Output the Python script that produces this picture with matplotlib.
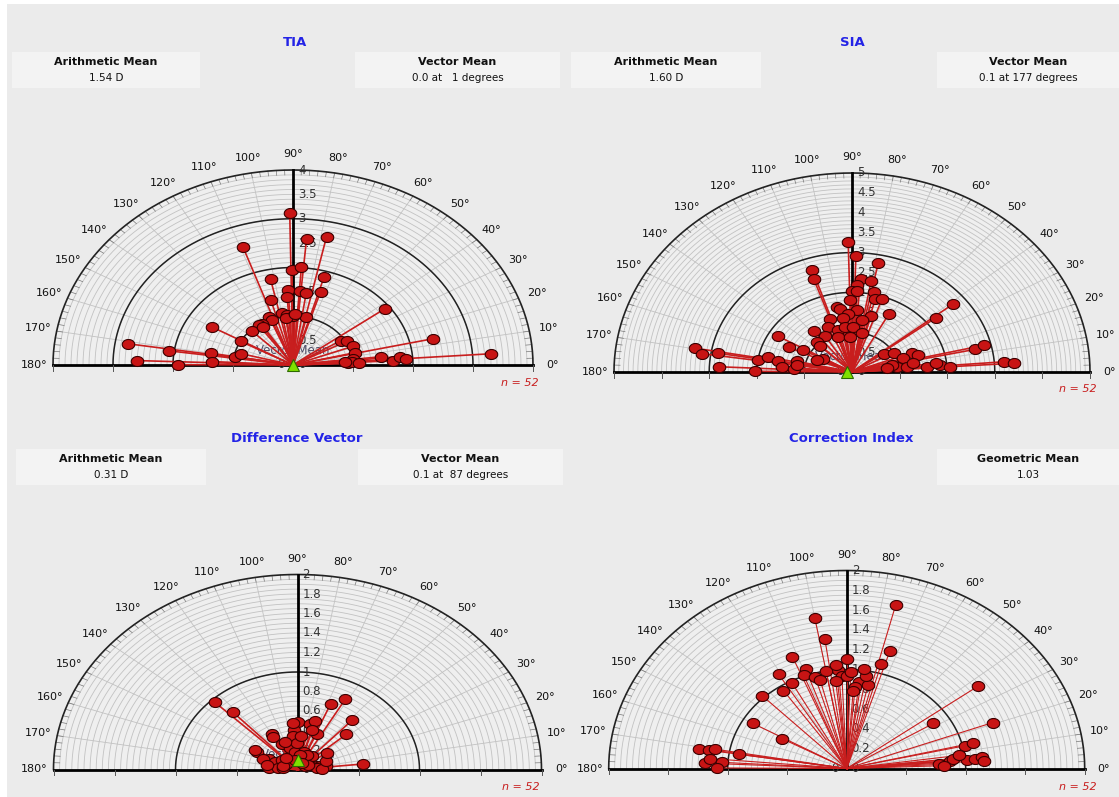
import numpy as np
import matplotlib.pyplot as plt
from matplotlib.patches import Rectangle
from matplotlib.transforms import offset_copy

W, H = 1119, 797

# TIA (angle in degrees, magnitude in D)
tia_ang = [91, 85, 78, 109, 90.5, 86, 74, 102, 93, 85.5, 81.5, 73, 94, 105.5, 37, 100,
           96, 90, 77, 112, 111, 122, 125, 134.5, 150, 151, 171, 172, 170, 170, 178, 179.8,
           177, 4, 13, 32, 28.5, 21, 13.7, 7, 3, 6.6, 3, 5.5, 3.7, 4, 4.6, 123, 97, 88, 165, 2]
tia_mag = [3.12, 2.6, 2.69, 2.57, 1.95, 2.02, 1.88, 1.8, 1.54, 1.53, 1.5, 1.57, 1.4, 1.38, 1.92, 1.08,
           1.03, 1.0, 1.0, 1.07, 0.99, 0.99, 0.99, 0.98, 1.56, 1.0, 2.79, 2.09, 1.38, 0.98, 2.6, 1.92,
           1.35, 3.3, 2.39, 0.94, 1.03, 1.07, 1.06, 1.0, 0.92, 1.48, 1.67, 1.79, 1.89, 0.98, 0.87, 0.93,
           0.98, 1.05, 0.9, 1.1]

# SIA
sia_ang = [91.4, 88.4, 78.6, 108, 109, 85.6, 80, 87.5, 90, 86.9, 77, 75, 71, 91, 38.8, 37.7,
           62, 74, 101, 99, 86.5, 93, 97.6, 109, 81, 114, 105, 97.5, 88.5, 78.5, 108, 92.6,
           122, 128, 150, 135, 136, 155, 152, 171, 168, 170, 175, 176, 167, 179.5, 152, 158,
           35, 29, 21, 17, 17.6, 8, 6.6, 12, 7, 9.6, 4.8, 5.5, 3.7, 12.4, 13.6, 4.6, 3.7,
           169.7, 171.7, 170.5, 177.3, 7, 171]
sia_mag = [3.26, 2.91, 2.79, 2.7, 2.47, 2.34, 2.32, 2.19, 2.04, 2.04, 2.06, 1.89, 1.95, 1.81, 2.72, 2.22,
           1.65, 1.47, 1.66, 1.59, 1.57, 1.46, 1.38, 1.42, 1.32, 1.24, 1.1, 1.15, 1.12, 1.01, 0.93, 0.87,
           1.07, 1.31, 1.79, 1.05, 0.93, 1.47, 1.16, 2.0, 1.8, 1.57, 1.48, 1.23, 1.19, 2.04, 0.68, 0.8,
           0.81, 1.0, 1.35, 1.46, 1.13, 0.95, 1.16, 0.85, 0.74, 1.31, 1.58, 1.86, 2.06, 2.65, 2.85, 3.2, 3.4,
           3.35, 3.19, 2.85, 2.79, 1.78, 1.18]

# Difference Vector
dv_ang = [132, 134.5, 61.5, 68, 48.5, 42, 6, 90, 78, 74, 67, 73, 94, 96, 120, 121,
          116, 105, 97, 91, 151, 150, 155, 156, 143, 146, 177, 176, 171, 74, 42, 27,
          13, 12, 9, 4, 48, 62, 82, 94, 165, 160, 30, 100, 2, 20, 130, 170, 60, 110, 35, 85]
dv_mag = [0.79, 0.97, 0.82, 0.73, 0.68, 0.54, 0.54, 0.49, 0.48, 0.52, 0.40, 0.42, 0.41, 0.35, 0.42, 0.39,
          0.29, 0.23, 0.18, 0.27, 0.38, 0.40, 0.26, 0.20, 0.16, 0.11, 0.23, 0.16, 0.12, 0.19, 0.12, 0.07,
          0.16, 0.19, 0.24, 0.16, 0.18, 0.17, 0.15, 0.48, 0.12, 0.30, 0.10, 0.10, 0.20, 0.25, 0.15, 0.25,
          0.08, 0.30, 0.30, 0.35]

# Correction Index
ci_ang = [76, 100, 98, 90, 73, 74.6, 112, 109, 111, 106, 121, 124, 134, 94, 92.5, 96,
          90, 83, 85, 86, 78, 37, 32, 20.7, 150, 151, 171, 170.6, 170, 171, 177.4, 176.6,
          179.7, 13, 13.6, 3, 5, 6.4, 4.6, 5.3, 6, 3.9, 100, 104, 88, 95, 80, 118, 8, 2, 175, 82]
ci_mag = [1.70, 1.54, 1.32, 1.11, 1.24, 1.10, 1.22, 1.06, 1.01, 0.96, 1.11, 0.95, 1.02, 1.00, 0.94, 0.89,
          0.93, 0.88, 0.83, 0.78, 0.86, 1.38, 0.86, 1.31, 0.91, 0.62, 1.26, 1.17, 1.12, 0.92, 1.19, 1.05,
          1.09, 1.02, 1.09, 0.78, 0.87, 0.90, 1.01, 1.08, 1.14, 1.16, 1.0, 0.92, 0.98, 1.05, 0.95, 0.98,
          0.95, 0.82, 1.15, 1.02]

BG = '#EBEBEB'
BLUE = '#2323E6'
RED = '#C81E1E'

# marcador levemente achatado, como no original
_t = np.linspace(0, 2 * np.pi, 41)
OVAL = list(zip(1.25 * np.cos(_t), np.sin(_t)))

fig = plt.figure(figsize=(W / 100, H / 100), dpi=100, facecolor=BG)


def fx(x):
    return x / W


def fy(y):
    return 1 - y / H


def caixa(x, y, w, h, titulo, valor):
    fig.patches.append(Rectangle((fx(x), fy(y + h)), w / W, h / H, transform=fig.transFigure,
                                 facecolor='#F3F3F3', edgecolor='none', zorder=0))
    fig.text(fx(x + w / 2), fy(y + 10), titulo, ha='center', va='center',
             fontsize=8, fontweight='bold', color='#111111')
    fig.text(fx(x + w / 2), fy(y + 26), valor, ha='center', va='center',
             fontsize=7.5, color='#111111')


def painel(cx, cy, rx, ry, R, passo, passo_lab, passo_tick, ang, mag, vm=None, lw=1.2):
    ax = fig.add_axes([fx(cx - 1.15 * rx), fy(cy + 0.12 * ry), 2.3 * rx / W, 1.27 * ry / H])
    ax.set_xlim(-1.15 * R, 1.15 * R)
    ax.set_ylim(-0.12 * R, 1.15 * R)
    ax.axis('off')
    ax.patch.set_alpha(0)

    t = np.linspace(0, np.pi, 361)
    ax.fill(R * np.cos(t), R * np.sin(t), color='#EFEFEF', zorder=0)
    # circulos finos
    for r in np.arange(passo, R - passo / 2, passo):
        ax.plot(r * np.cos(t), r * np.sin(t), color='#C2C2C2', lw=0.6, zorder=1)
    # linhas radiais
    for a in range(10, 180, 10):
        a = np.radians(a)
        ax.plot([0, R * np.cos(a)], [0, R * np.sin(a)], color='#C2C2C2', lw=0.6, zorder=1)
    # marcas na borda
    for a in range(0, 181, 2):
        a = np.radians(a)
        ax.plot([0.975 * R * np.cos(a), R * np.cos(a)], [0.975 * R * np.sin(a), R * np.sin(a)],
                color='#777777', lw=0.5, zorder=1)
    # circulos pretos
    for r in range(1, int(np.ceil(R))):
        if r <= 3:
            ax.plot(r * np.cos(t), r * np.sin(t), color='#222222', lw=1.1, zorder=2)
    ax.plot(R * np.cos(t), R * np.sin(t), color='#222222', lw=1.2, zorder=2)
    ax.plot([-R, R], [0, 0], color='black', lw=2, zorder=2)
    ax.plot([0, 0], [0, R], color='black', lw=2, zorder=2)
    for r in np.arange(passo_tick, R + 1e-9, passo_tick):
        for s in (-1, 1):
            ax.plot([s * r, s * r], [0, -0.03 * R], color='#555555', lw=0.7, zorder=2)

    # rotulos de angulo
    for a in range(0, 181, 10):
        ar = np.radians(a)
        ax.text(1.08 * R * np.cos(ar), 1.08 * R * np.sin(ar), '%d°' % a, ha='center', va='center',
                fontsize=8, color='#111111')

    # rotulos radiais
    tr = offset_copy(ax.transData, fig=fig, x=5, y=0, units='dots')
    for v in np.arange(0, R + 1e-9, passo_lab):
        ax.text(0, v, '%g' % round(v, 2), transform=tr, ha='left', va='center',
                fontsize=8.5, color='#333333', zorder=2)
    tl = offset_copy(ax.transData, fig=fig, x=-12, y=0, units='dots')
    ax.text(0, 0, '0', transform=tl, ha='center', va='center', fontsize=8.5, color='#333333', zorder=2)

    if vm is not None:
        tv = offset_copy(ax.transData, fig=fig, x=0, y=15, units='dots')
        ax.text(0, 0, 'Vector Mean', transform=tv, ha='center', va='center', fontsize=8.5,
                color='#4C4C66', zorder=2)

    a = np.radians(ang)
    x = np.array(mag) * np.cos(a)
    y = np.array(mag) * np.sin(a)
    for xi, yi in zip(x, y):
        ax.plot([0, xi], [0, yi], color=RED, lw=lw, zorder=3)
    ax.plot(x, y, marker=OVAL, ls='none', ms=9, mfc='#C81414', mec='#3A0000', mew=0.8, zorder=4)

    if vm is not None:
        vr, va = vm
        ax.plot(vr * np.cos(np.radians(va)), vr * np.sin(np.radians(va)), '^', ms=8,
                mfc='#7FE000', mec='#2D6A00', mew=0.8, zorder=5)
    return ax


# faixas brancas das bordas
fig.patches.append(Rectangle((0, fy(4)), 1, 4 / H, transform=fig.transFigure, facecolor='white',
                             edgecolor='none', zorder=0))
fig.patches.append(Rectangle((0, 0), 7 / W, 1, transform=fig.transFigure, facecolor='white',
                             edgecolor='none', zorder=0))

# TIA
fig.text(fx(295), fy(42), 'TIA', ha='center', va='center', fontsize=9.5, fontweight='bold', color=BLUE)
caixa(12, 52, 188, 36, 'Arithmetic Mean', '1.54 D')
caixa(355, 52, 205, 36, 'Vector Mean', '0.0 at   1 degrees')
painel(293, 365, 240, 195, 4, 0.1, 0.5, 1, tia_ang, tia_mag, vm=(0.0, 1))
fig.text(fx(520), fy(383), 'n = 52', ha='center', va='center', fontsize=8, style='italic', color=RED)

# SIA
fig.text(fx(852), fy(42), 'SIA', ha='center', va='center', fontsize=9.5, fontweight='bold', color=BLUE)
caixa(571, 52, 190, 36, 'Arithmetic Mean', '1.60 D')
caixa(937, 52, 182, 36, 'Vector Mean', '0.1 at 177 degrees')
painel(852, 372, 238, 199, 5, 0.1, 0.5, 1, sia_ang, sia_mag, vm=(0.1, 177))
fig.text(fx(1078), fy(389), 'n = 52', ha='center', va='center', fontsize=8, style='italic', color=RED)

# Difference Vector
fig.text(fx(297), fy(438), 'Difference Vector', ha='center', va='center', fontsize=9.5,
         fontweight='bold', color=BLUE)
caixa(16, 449, 190, 36, 'Arithmetic Mean', '0.31 D')
caixa(358, 449, 205, 36, 'Vector Mean', '0.1 at  87 degrees')
painel(297.5, 769.5, 244, 195, 2, 0.05, 0.2, 0.5, dv_ang, dv_mag, vm=(0.1, 87))
fig.text(fx(521), fy(787), 'n = 52', ha='center', va='center', fontsize=8, style='italic', color=RED)

# Correction Index
fig.text(fx(851), fy(438), 'Correction Index', ha='center', va='center', fontsize=9.5,
         fontweight='bold', color=BLUE)
caixa(937, 449, 182, 36, 'Geometric Mean', '1.03')
painel(846.7, 768.5, 238, 198, 2, 0.05, 0.2, 0.5, ci_ang, ci_mag, lw=0.8)
fig.text(fx(1078), fy(787), 'n = 52', ha='center', va='center', fontsize=8, style='italic', color=RED)

fig.savefig('out.png', dpi=100, facecolor=BG)
